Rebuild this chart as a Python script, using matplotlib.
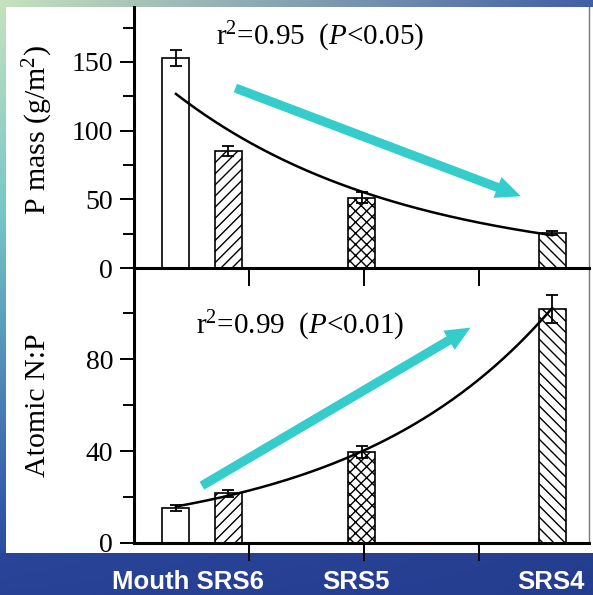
import matplotlib
matplotlib.use("Agg")
import matplotlib.pyplot as plt
import numpy as np
from matplotlib.patches import Rectangle
from matplotlib.transforms import blended_transform_factory

plt.rcParams.update({'font.family': 'Liberation Serif',
                     'mathtext.fontset': 'custom',
                     'mathtext.rm': 'Liberation Serif',
                     'mathtext.it': 'Liberation Serif:italic',
                     'hatch.linewidth': 1.0})

# stations (distance along the river, km) and values
sites = ["Mouth", "SRS6", "SRS5", "SRS4"]
dist = np.array([3.65, 8.2, 19.8, 36.4])
hatches = ["", "///", "xxx", "\\\\\\"]
p_mass = np.array([153, 85, 51, 25.5])
p_mass_err = np.array([6, 3.5, 4, 1.5])
np_ratio = np.array([15.2, 21.7, 39.6, 101.7])
np_ratio_err = np.array([1.5, 1.5, 2.5, 6])

xlabels = ["Mouth SRS6", "SRS5", "SRS4"]
xlabel_pos = [4.7, 19.3, 36.3]

# trend arrows (data coords: start, end)
arrow_top = ((8.6, 131.7), (33.9, 51.5))
arrow_bot = ((5.7, 24.3), (29.5, 94.3))

W, H = 593, 595
fig = plt.figure(figsize=(W / 100, H / 100), dpi=100)

# blue slide background
bg = fig.add_axes([0, 0, 1, 1], zorder=0)
v = np.linspace(0, 1, H)[:, None]
u = np.linspace(0, 1, W)[None, :]
left = np.stack([np.interp(v[:, 0], [0, 0.35, 0.85, 1], c)
                 for c in ([200, 120, 50, 40], [226, 200, 90, 65], [190, 200, 170, 150])], axis=-1)
right = np.stack([np.interp(v[:, 0], [0, 1], c)
                  for c in ([65, 30], [95, 50], [165, 125])], axis=-1)
img = left[:, None, :] * (1 - u[..., None]) + right[:, None, :] * u[..., None]
band = v[:, 0] > 553 / H
img[band] = img[band] * 0.3 + np.array([40, 66, 150]) * 0.7
bg.imshow(img.astype(np.uint8), aspect='auto', extent=[0, 1, 0, 1])
bg.add_patch(Rectangle((6 / W, 1 - 553 / H), 1, (553 - 7) / H, color='white', lw=0))
bg.set_xlim(0, 1)
bg.set_ylim(0, 1)
bg.axis('off')

ax1 = fig.add_axes([134 / W, 1 - 268 / H, 455 / W, 261 / H], zorder=2)
ax2 = fig.add_axes([134 / W, 1 - 543 / H, 455 / W, 275 / H], zorder=1)


def panel(ax, y, yerr, ylim, major, minor, ylabel, lab_y, note, note_xy, arrow):
    ax.set_facecolor('none')
    bars = ax.bar(dist, y, width=2.35, color='white', edgecolor='black', lw=1.2, zorder=2)
    for b, h in zip(bars, hatches):
        b.set_hatch(h)
    ax.errorbar(dist, y, yerr=yerr, fmt='none', ecolor='black', elinewidth=1.3,
                capsize=4.5, capthick=1.3, zorder=3)
    k, c = np.polyfit(dist, np.log(y), 1)
    xs = np.linspace(dist[0], dist[-1], 200)
    ax.plot(xs, np.exp(c + k * xs), color='black', lw=1.8, zorder=4)
    ax.annotate('', xy=arrow[1], xytext=arrow[0], zorder=5,
                arrowprops=dict(arrowstyle='simple,head_length=0.9,head_width=0.8,tail_width=0.33',
                                mutation_scale=20, color='#35cccc', lw=0))
    ax.set_xlim(0, 39.6)
    ax.set_ylim(*ylim)
    ax.set_yticks(major)
    ax.set_yticks(minor, minor=True)
    ax.set_xticks([10, 20, 30])
    ax.set_xticklabels([])
    ax.tick_params(axis='y', which='major', length=10, width=1.4, labelsize=20, pad=5)
    ax.tick_params(axis='y', which='minor', length=8, width=1.4)
    ax.tick_params(axis='x', length=13, width=1.4)
    ax.spines['top'].set_visible(False)
    ax.spines['left'].set_linewidth(2.2)
    ax.spines['bottom'].set_linewidth(2.2)
    ax.spines['right'].set_linewidth(1.0)
    ax.spines['right'].set_color('#777777')
    ax.text(-0.211, lab_y, ylabel, transform=ax.transAxes, rotation=90,
            ha='center', va='center', fontsize=21.5)
    ax.text(note_xy[0], note_xy[1], note, transform=ax.transAxes,
            ha='center', va='center', fontsize=21)


panel(ax1, p_mass, p_mass_err, (0, 190), [0, 50, 100, 150], [25, 75, 125, 175],
      r'P mass (g/m$^2$)', 0.529, r'r$^2$=0.95  ($P$<0.05)', (0.409, 0.885), arrow_top)
panel(ax2, np_ratio, np_ratio_err, (0, 119.6), [0, 40, 80], [20, 60, 100],
      'Atomic N:P', 0.5, r'r$^2$=0.99  ($P$<0.01)', (0.365, 0.79), arrow_bot)

tr = blended_transform_factory(ax2.transData, fig.transFigure)
for lab, xp in zip(xlabels, xlabel_pos):
    ax2.text(xp, 1 / H, lab, transform=tr, ha='center', va='bottom', color='white',
             fontsize=18.5, fontweight='bold', family='Liberation Sans', clip_on=False)

fig.savefig('out.png', dpi=100)
